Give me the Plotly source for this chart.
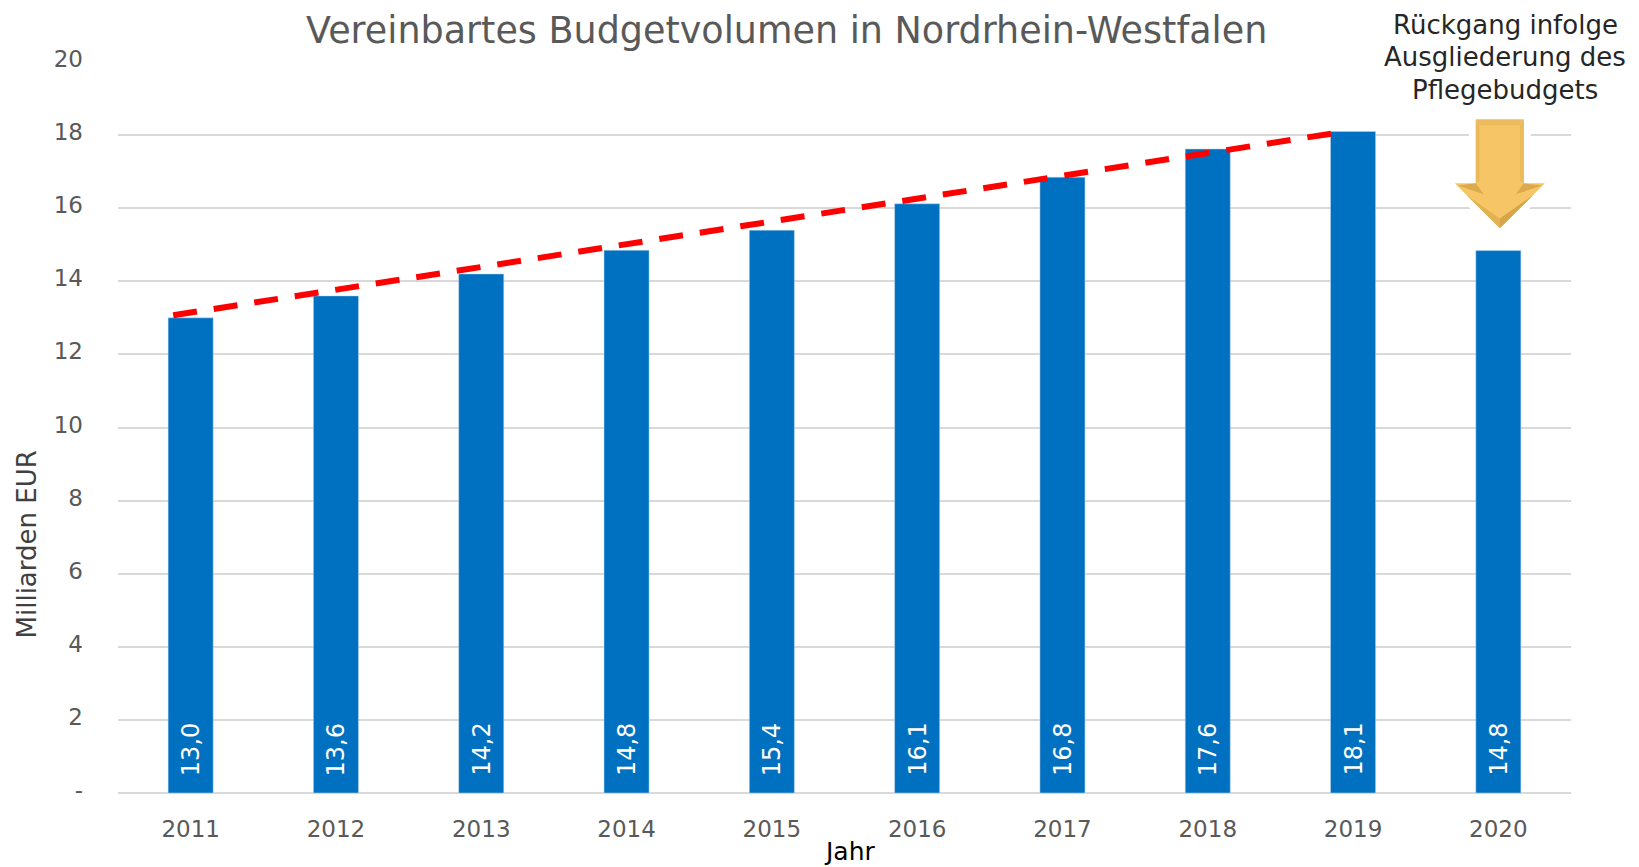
import plotly.graph_objects as go

years = [2011, 2012, 2013, 2014, 2015, 2016, 2017, 2018, 2019, 2020]
budget = [13.0, 13.6, 14.2, 14.85, 15.4, 16.12, 16.85, 17.62, 18.1, 14.84]
labels = ["13,0", "13,6", "14,2", "14,8", "15,4", "16,1", "16,8", "17,6", "18,1", "14,8"]
trend_x = [2010.88, 2018.93]
trend_y = [13.07, 18.09]
y_ticks = [0, 2, 4, 6, 8, 10, 12, 14, 16, 18, 20]
y_tick_text = ["-", "2", "4", "6", "8", "10", "12", "14", "16", "18", "20"]
note_lines = ["Rückgang infolge", "Ausgliederung des", "Pflegebudgets"]

FONT = "DejaVu Sans"
GREY = "#595959"

fig = go.Figure()
fig.add_bar(x=years, y=budget, width=0.31, marker=dict(color="#0070C0", line=dict(color="#BDD7EE", width=0.5)),
            cliponaxis=False, hoverinfo="skip")
fig.add_scatter(x=trend_x, y=trend_y, mode="lines", line=dict(color="#FF0000", width=6, dash="24px,17px"), hoverinfo="skip")


def poly(cx, pts):
    return "M" + " L".join(f"{cx + dx},{yy}" for dx, yy in pts) + " Z"


arrow_cx = 2020.01
arrow_layers = [
    ("#FFFFFF", 14, [(-0.165, 18.43), (0.165, 18.43), (0.165, 16.68), (0.31, 16.68), (0, 15.45), (-0.31, 16.68), (-0.165, 16.68)]),
    ("#F6C666", 0, [(-0.165, 18.43), (0.165, 18.43), (0.165, 16.68), (0.31, 16.68), (0, 15.45), (-0.31, 16.68), (-0.165, 16.68)]),
    ("#EBBB5C", 0, [(-0.165, 18.43), (0.165, 18.43), (0.135, 18.27), (-0.135, 18.27)]),
    ("#E9B95A", 0, [(-0.165, 18.43), (-0.14, 18.27), (-0.14, 16.75), (-0.165, 16.68)]),
    ("#E9B95A", 0, [(0.165, 18.43), (0.14, 18.27), (0.14, 16.75), (0.165, 16.68)]),
    ("#DBAA4C", 0, [(-0.29, 16.62), (-0.165, 16.68), (-0.11, 16.38)]),
    ("#DBAA4C", 0, [(0.29, 16.62), (0.165, 16.68), (0.11, 16.38)]),
    ("#E2B152", 0, [(-0.23, 16.36), (0, 15.45), (0, 15.72)]),
    ("#D5A548", 0, [(0.23, 16.36), (0, 15.45), (0, 15.72)]),
]
shapes = [
    dict(type="path", path=poly(arrow_cx, pts), xref="x", yref="y", fillcolor=col,
         line=dict(color=col, width=w), layer="above")
    for col, w, pts in arrow_layers
]

bar_labels = [
    dict(text=t, x=x, y=0, xref="x", yref="y", yanchor="bottom", xanchor="center", yshift=15, textangle=-90,
         showarrow=False, font=dict(family=FONT, size=24, color="white"))
    for x, t in zip(years, labels)
]
note_shift = [37.5, 5, -27.5]
notes = [
    dict(text=t, xref="paper", yref="paper", x=1.0, y=1.0, xanchor="center", yanchor="middle", xshift=-66, yshift=s,
         showarrow=False, bgcolor="white", font=dict(family=FONT, size=26, color="#262626"))
    for t, s in zip(note_lines, note_shift)
]

fig.update_layout(
    width=1639, height=867, autosize=False, showlegend=False,
    paper_bgcolor="white", plot_bgcolor="white",
    margin=dict(l=118, r=68, t=61.5, b=74, pad=0),
    font=dict(family=FONT, color=GREY),
    shapes=shapes,
    xaxis=dict(range=[2010.5, 2020.5], tickmode="array", tickvals=years, ticktext=[str(y) for y in years],
               showgrid=False, zeroline=False, showline=False, ticks="", ticklabelstandoff=20,
               tickfont=dict(family=FONT, size=23, color=GREY)),
    yaxis=dict(range=[0, 20], tickmode="array", tickvals=y_ticks, ticktext=y_tick_text,
               showgrid=True, gridcolor="#D9D9D9", gridwidth=2, zeroline=True, zerolinecolor="#D9D9D9", zerolinewidth=2,
               showline=False, ticks="", ticklabelstandoff=34, ticklabelshift=-3,
               tickfont=dict(family=FONT, size=23, color=GREY)),
    annotations=bar_labels + notes + [
        dict(text="Vereinbartes Budgetvolumen in Nordrhein-Westfalen", xref="paper", yref="paper",
             x=0.46, y=1.0, yanchor="middle", xanchor="center", yshift=32, showarrow=False,
             font=dict(family=FONT, size=36.5, color=GREY)),
        dict(text="Jahr", xref="paper", yref="paper", x=0.5035, y=0, yanchor="middle", yshift=-58, showarrow=False,
             font=dict(family=FONT, size=25, color="#000000")),
        dict(text="Milliarden EUR", xref="paper", yref="paper", x=0, y=0.34, xanchor="center", yanchor="middle",
             xshift=-91, textangle=-90, showarrow=False, font=dict(family=FONT, size=26, color="#404040")),
    ],
)

fig.write_html("out.html", config={"displayModeBar": False}, post_script="document.body.style.margin='0';")
